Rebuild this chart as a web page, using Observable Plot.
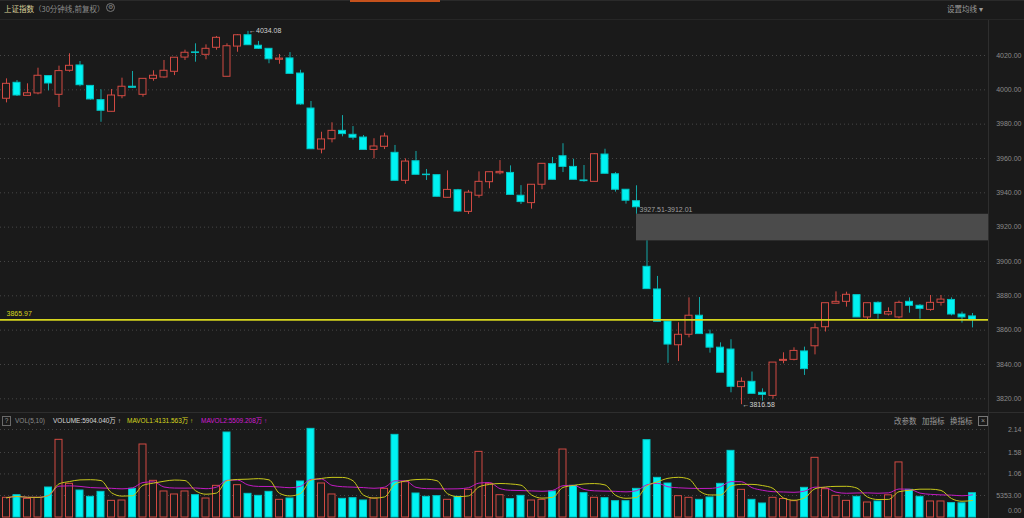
<!DOCTYPE html>
<html>
<head>
<meta charset="utf-8">
<script src="https://cdn.jsdelivr.net/npm/d3@7"></script>
<script src="https://cdn.jsdelivr.net/npm/@observablehq/plot@0.6"></script>
<style>
  html, body { margin:0; padding:0; background:#1a1a1a; overflow:hidden; }
  #wrap { position:relative; width:1024px; height:518px; background:#1a1a1a; overflow:hidden;
          font-family:"Liberation Sans","Noto Sans CJK SC",sans-serif; }
  .abs { position:absolute; white-space:nowrap; line-height:10px; }
  .plot { position:absolute; left:0; }
</style>
</head>
<body>
<div id="wrap">
  <div class="abs" style="left:0;top:0;width:1024px;height:1px;background:#2a2a2a"></div>
  <div class="abs" style="left:350px;top:0;width:90px;height:2px;background:#c4511c"></div>
  <div class="abs" style="left:0;top:19px;width:1024px;height:1px;background:#262626"></div>
  <div class="abs" style="left:4px;top:4px;font-size:7.5px;color:#dcd09a;font-family:'Noto Sans CJK SC',sans-serif">上证指数</div>
  <div class="abs" style="left:34px;top:4px;font-size:7.5px;color:#8a8a8a;font-family:'Noto Sans CJK SC',sans-serif">（30分钟线,前复权）</div>
  <div class="abs" style="left:106px;top:3px;width:7px;height:7px;border:1px solid #777;border-radius:50%;font-size:6px;line-height:7px;text-align:center;color:#888">⚙</div>
  <div class="abs" style="left:947px;top:4px;font-size:7.5px;color:#9a9a9a;font-family:'Noto Sans CJK SC',sans-serif">设置均线 ▾</div>

  <div id="main" class="plot" style="top:20px"></div>
  <div id="vol" class="plot" style="top:413px"></div>

  <div class="abs" style="left:0;top:412px;width:1024px;height:1px;background:#2e2e2e"></div>
  <div class="abs" style="left:988px;top:20px;width:1px;height:498px;background:#2e2e2e"></div>

  <div class="abs" style="left:2px;top:416px;width:7px;height:8px;border:1px solid #6a6a6a;font-size:6.5px;line-height:8px;text-align:center;color:#999">?</div>
  <div class="abs" style="left:15px;top:416px;font-size:6.5px;color:#8a8a8a">VOL(5,10)</div>
  <div class="abs" id="hdrVol" style="left:53px;top:416px;font-size:6.5px;color:#d8d8d8"></div>
  <div class="abs" id="hdrMa1" style="left:127px;top:416px;font-size:6.5px;color:#d6d61e"></div>
  <div class="abs" id="hdrMa2" style="left:201px;top:416px;font-size:6.5px;color:#d21ad2"></div>
  <div class="abs" style="left:894px;top:416px;font-size:7.5px;color:#9a9a9a;font-family:'Noto Sans CJK SC',sans-serif">改参数</div>
  <div class="abs" style="left:922px;top:416px;font-size:7.5px;color:#9a9a9a;font-family:'Noto Sans CJK SC',sans-serif">加指标</div>
  <div class="abs" style="left:950px;top:416px;font-size:7.5px;color:#9a9a9a;font-family:'Noto Sans CJK SC',sans-serif">换指标</div>
  <div class="abs" style="left:978px;top:416px;width:8px;height:8px;border:1px solid #777;font-size:7px;line-height:8px;text-align:center;color:#999">×</div>
</div>
<script>
// ---- data (30-minute bars, 上证指数) ----
const openP = [3994.8,4004.1,3996.5,3997.9,4008.0,3997.1,4011.1,4014.2,4002.3,3994.0,
  3987.2,3996.3,4001.8,3997.1,4006.4,4007.2,4010.5,4018.8,4021.8,4020.4,
  4024.5,4007.6,4025.2,4031.8,4025.7,4023.9,4017.5,4018.3,4009.5,3989.1,
  3965.2,3971.2,3976.1,3973.8,3972.2,3965.0,3966.8,3963.3,3947.0,3958.4,
  3950.6,3950.3,3937.1,3941.5,3928.9,3938.3,3946.2,3951.4,3951.6,3938.3,
  3934.0,3944.7,3956.7,3961.3,3955.1,3947.2,3946.4,3962.3,3950.8,3941.8,
  3935.1,3896.9,3883.7,3865.0,3851.2,3857.3,3868.4,3857.5,3849.8,3848.7,
  3826.8,3829.9,3823.5,3821.7,3842.1,3842.7,3847.6,3850.6,3861.7,3875.4,
  3876.5,3880.4,3867.4,3875.9,3869.1,3867.4,3876.5,3874.2,3871.8,3875.9,
  3877.6,3869.1,3868.0];
const highP = [4006.4,4005.4,4003.5,4012.6,4008.0,4013.8,4021.0,4016.5,4002.3,4000.0,
  4000.2,4006.8,4010.7,4006.4,4011.1,4017.1,4018.7,4023.1,4026.8,4026.2,
  4031.1,4026.8,4032.2,4034.08,4028.2,4023.9,4020.6,4021.7,4011.4,3993.2,
  3975.3,3980.8,3985.0,3978.6,3973.4,3971.5,3974.7,3967.6,3959.8,3964.1,
  3953.6,3950.5,3952.8,3942.0,3941.4,3952.2,3952.0,3958.8,3955.7,3944.2,
  3944.7,3956.9,3960.6,3968.6,3959.6,3955.9,3962.9,3965.4,3951.8,3941.8,
  3944.1,3912.01,3891.3,3865.0,3864.3,3878.8,3879.0,3860.0,3852.6,3854.4,
  3832.2,3835.6,3825.8,3841.1,3846.8,3849.7,3850.1,3863.7,3875.7,3882.3,
  3882.1,3880.4,3875.7,3876.5,3873.0,3876.9,3878.8,3874.9,3880.2,3880.2,
  3878.8,3870.5,3869.7];
const lowP = [3992.4,3996.1,3996.4,3997.1,3999.4,3989.7,4010.3,4001.8,3994.0,3981.1,
  3987.2,3994.8,4001.0,3995.7,4005.0,4006.8,4008.3,4017.1,4016.1,4017.5,
  4023.1,4007.6,4021.9,4026.0,4023.5,4015.2,4014.9,4009.1,3991.0,3965.2,
  3962.7,3969.1,3972.6,3970.7,3965.0,3959.8,3965.2,3947.0,3945.0,3950.5,
  3947.2,3937.5,3937.0,3928.7,3927.4,3936.9,3942.3,3950.5,3938.7,3933.2,
  3930.5,3941.8,3947.6,3951.8,3947.6,3946.2,3946.4,3951.0,3940.4,3933.4,
  3927.51,3883.9,3864.9,3840.7,3841.7,3855.5,3857.6,3846.6,3835.2,3823.5,
  3816.58,3822.9,3818.6,3819.8,3840.4,3842.1,3833.6,3845.6,3858.9,3875.4,
  3873.4,3867.4,3866.0,3866.4,3868.3,3866.6,3869.9,3866.4,3871.0,3874.0,
  3868.3,3864.1,3861.3];
const closeP = [4003.5,3996.7,3998.0,4008.2,4003.7,4010.9,4014.0,4002.7,3994.4,3987.8,
  3996.7,4001.8,4001.2,4006.4,4008.2,4011.1,4018.7,4021.6,4021.5,4023.9,
  4030.3,4025.4,4031.8,4026.0,4023.9,4017.8,4018.2,4009.3,3991.5,3965.4,
  3971.1,3976.1,3974.2,3972.1,3965.0,3967.0,3972.8,3947.0,3958.2,3950.5,
  3950.3,3937.7,3941.7,3929.1,3940.1,3946.4,3952.0,3952.2,3938.8,3934.6,
  3944.7,3956.9,3947.6,3955.1,3947.6,3946.8,3962.5,3951.1,3941.8,3935.4,
  3931.6,3883.9,3864.9,3851.6,3857.3,3868.4,3857.7,3849.8,3835.2,3827.0,
  3829.9,3822.9,3822.3,3841.1,3842.7,3847.9,3837.3,3861.1,3875.7,3876.5,
  3880.6,3867.4,3875.7,3869.5,3870.5,3875.9,3874.2,3872.4,3875.9,3877.8,
  3869.1,3867.4,3865.97];
// volume in 万 (10k)
const volume = [4790,5430,4540,4790,7300,18900,8190,6570,5030,6240,
  4050,4130,6970,17760,8920,6330,5600,6330,5430,4620,
  7700,20680,7870,5760,5270,6240,4300,4620,8760,21570,
  8270,5600,4540,4700,4140,4620,6970,20110,8600,5840,
  5030,5190,4300,5030,6730,15970,8190,5430,4460,5270,
  4130,4300,6330,16540,7700,5920,4790,4700,3970,3970,
  6970,18820,9650,8270,5190,4790,4300,4870,8190,16220,
  6730,4300,3410,4790,4500,3970,7220,14520,6890,5270,
  4050,5030,3650,3890,5400,13400,6730,5030,3900,3900,
  3500,3450,5904.04];

const priceTicks = [3820,3840,3860,3880,3900,3920,3940,3960,3980,4000,4020];
const volTicks = [5353, 10600, 15800, 21400];
const volTickLabels = ["5353.00","1.06","1.58","2.14"];
const volZeroLabel = "0.00";
const lastClose = 3865.97;
const gapTop = 3927.51, gapBottom = 3912.01;
const maxHigh = 4034.08, minLow = 3816.58;
const headerVolume = "VOLUME:5904.040万 ↑";
const headerMa1 = "MAVOL1:4131.563万 ↑";
const headerMa2 = "MAVOL2:5509.208万 ↑";

// ---- styles ----
const BG = "#1a1a1a", RED = "#d24a43", CYAN = "#00f2f2", CYAN_EDGE = "#00c6c6", CYAN_WICK = "#14a8a8";
const GRID = "#474747", AXIS_TEXT = "#8a8a8a";
const hw = 0.333;
const xDomain = [-0.5714, 93.524];
const FONT = "'Liberation Sans','Noto Sans CJK SC',sans-serif";

const bars = openP.map((o, i) => ({
  i, open: o, high: highP[i], low: lowP[i], close: closeP[i], vol: volume[i],
  up: closeP[i] >= o,
  volUp: i === 0 ? closeP[i] >= o : closeP[i] >= closeP[i - 1]
}));
const iMax = highP.indexOf(maxHigh);
const iMin = lowP.indexOf(minLow);
const iGap = lowP.indexOf(gapTop);
const gaps = [{from: iGap, top: gapTop, bottom: gapBottom}];

document.getElementById("hdrVol").textContent = headerVolume;
document.getElementById("hdrMa1").textContent = headerMa1;
document.getElementById("hdrMa2").textContent = headerMa2;

const main = Plot.plot({
  width: 1024, height: 393,
  marginLeft: 0, marginRight: 36, marginTop: 0, marginBottom: 0,
  style: {background: "transparent", color: AXIS_TEXT, fontFamily: FONT, fontSize: "7px", overflow: "visible"},
  x: {domain: xDomain, axis: null},
  y: {domain: [3811.44, 4040.39], axis: null},
  color: {type: "identity"},
  marks: [
    Plot.gridY(priceTicks, {stroke: GRID, strokeOpacity: 1, strokeDasharray: "1,3"}),
    Plot.rect(gaps, {x1: "from", x2: () => xDomain[1], y1: "bottom", y2: "top", fill: "#4b4b4b"}),
    Plot.text(gaps, {x: "from", y: "top", text: d => `${d.top.toFixed(2)}-${d.bottom.toFixed(2)}`, textAnchor: "start", dx: 3, dy: -5, fill: "#a0a0a0"}),
    Plot.ruleX(bars, {x: "i", y1: "low", y2: "high", stroke: d => d.up ? RED : CYAN_WICK, strokeWidth: 1}),
    Plot.rect(bars, {x1: d => d.i - hw, x2: d => d.i + hw, y1: "open", y2: "close",
      fill: d => d.up ? BG : CYAN, stroke: d => d.up ? RED : CYAN_EDGE, strokeWidth: 1}),
    Plot.ruleY([lastClose], {stroke: "#d6d61e", strokeWidth: 1.6}),
    Plot.text([lastClose], {frameAnchor: "left", y: d => d, text: d => d.toFixed(2), textAnchor: "start", dx: 6, dy: -6, fill: "#d6d61e"}),
    Plot.text([{i: iMax, v: maxHigh}], {x: "i", y: "v", text: d => "←" + d.v.toFixed(2), textAnchor: "start", dx: 1, dy: -1, fill: "#d0d0d0"}),
    Plot.text([{i: iMin, v: minLow}], {x: "i", y: "v", text: d => "←" + d.v.toFixed(2), textAnchor: "start", dx: 1, dy: 0, fill: "#d0d0d0"}),
    Plot.axisY(priceTicks, {anchor: "right", tickSize: 0, tickPadding: 33, textAnchor: "end",
      tickFormat: d => d.toFixed(2), fill: AXIS_TEXT, label: null})
  ]
});
document.getElementById("main").appendChild(main);

const vol = Plot.plot({
  width: 1024, height: 105,
  marginLeft: 0, marginRight: 36, marginTop: 0, marginBottom: 1,
  style: {background: "transparent", color: AXIS_TEXT, fontFamily: FONT, fontSize: "7px", overflow: "visible"},
  x: {domain: xDomain, axis: null},
  y: {domain: [0, 25304], axis: null},
  color: {type: "identity"},
  marks: [
    Plot.gridY(volTicks, {stroke: GRID, strokeOpacity: 1, strokeDasharray: "1,3"}),
    Plot.rectY(bars, {x1: d => d.i - hw, x2: d => d.i + hw, y: "vol",
      fill: d => d.volUp ? BG : CYAN, stroke: d => d.volUp ? RED : CYAN_EDGE, strokeWidth: 1}),
    Plot.lineY(bars, Plot.windowY({k: 10, anchor: "end"}, {x: "i", y: "vol", stroke: "#c21ac2", strokeWidth: 1, curve: "monotone-x"})),
    Plot.lineY(bars, Plot.windowY({k: 5, anchor: "end"}, {x: "i", y: "vol", stroke: "#c8c81a", strokeWidth: 1, curve: "monotone-x"})),
    Plot.axisY(volTicks, {anchor: "right", tickSize: 0, tickPadding: 33, textAnchor: "end",
      tickFormat: (d) => volTickLabels[volTicks.indexOf(d)], fill: AXIS_TEXT, label: null}),
    Plot.text([0], {frameAnchor: "right", y: d => d, text: () => volZeroLabel, textAnchor: "end", dx: 33, dy: -7, fill: AXIS_TEXT})
  ]
});
document.getElementById("vol").appendChild(vol);
</script>
</body>
</html>
